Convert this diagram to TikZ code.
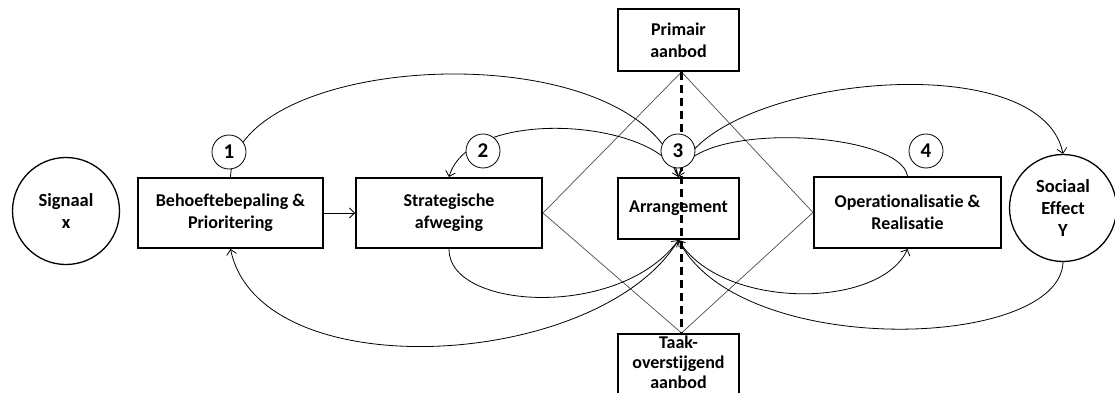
\documentclass[tikz,border=0pt]{standalone}
\usepackage{fontspec}
\setmainfont{Carlito}[Ligatures={NoCommon}]
\usetikzlibrary{arrows.meta}
\begin{document}
\begin{tikzpicture}[x=1pt,y=-1pt,
  box/.style={draw,line width=2pt,align=center,inner sep=0pt,font=\fontsize{18}{22}\selectfont\bfseries},
  bigc/.style={draw,circle,line width=1.3pt,align=center,inner sep=0pt,minimum size=107pt,font=\fontsize{18.5}{22}\selectfont\bfseries},
  numc/.style={draw,circle,fill=white,line width=0.8pt,inner sep=0pt,minimum size=34pt,font=\fontsize{21}{22}\selectfont\bfseries},
  conn/.style={line width=0.8pt},
  arr/.style={conn,-{Straight Barb[length=5pt,width=10pt]}},
  dia/.style={line width=0.7pt,black!70},
  dash line/.style={line width=2.2pt,dash pattern=on 8pt off 5pt}
]
\useasboundingbox (0,0) rectangle (1115,393);
% nodes
\node[bigc] (sig) at (66,211) {Signaal\\x};
\node[box,minimum width=185pt,minimum height=70pt] (b1) at (230.5,213) {Behoeftebepaling \&\\Prioritering};
\node[box,minimum width=186pt,minimum height=70pt] (b2) at (449,213) {Strategische\\afweging};
\node[box,minimum width=121pt,minimum height=61pt] (arrn) at (678.5,208.5) {Arrangement};
\node[box,minimum width=121pt,minimum height=62pt] (prim) at (678.5,40) {Primair\\aanbod};
\node[box,minimum width=121pt,minimum height=64pt,anchor=north] (taak) at (678.5,333) {};
\node[align=center,inner sep=0pt,font=\fontsize{18}{20}\selectfont\bfseries] (taakt) at (678.5,362) {Taak-\\overstijgend\\aanbod};
\node[box,minimum width=187pt,minimum height=71pt] (op) at (907.5,212.5) {Operationalisatie \&\\Realisatie};
\node[bigc] (soc) at (1063,208) {Sociaal\\Effect\\Y};
% diamond and dashed line
\coordinate (pt) at ([xshift=3pt]prim.south);
\coordinate (pb) at ([xshift=3pt]taak.north);
\draw[dia] (pt) -- (b2.east) -- (pb) -- (op.west) -- cycle;
\draw[dash line] (pt) -- (pb);
% straight arrow
\draw[arr] (b1.east) -- (b2.west);
% upper curves
\draw[arr] (b1.north) .. controls (235,50) and (640,30) .. (arrn.north);
\draw[arr] (arrn.north) .. controls (660,120) and (470,105) .. (b2.north);
\draw[arr] (arrn.north) .. controls (700,80) and (1040,40) .. (soc.north);
\draw[arr] (op.north) .. controls (900,130) and (690,120) .. (arrn.north);
% lower curves
\draw[arr] (b2.south) .. controls (448,310) and (620,320) .. (arrn.south);
\draw[arr] (arrn.south) .. controls (600,370) and (260,390) .. (b1.south);
\draw[arr] (arrn.south) .. controls (720,310) and (880,310) .. (op.south);
\draw[arr] (soc.south) .. controls (1060,350) and (740,360) .. (arrn.south);
% number circles
\node[numc] (n1) at (229,152) {1};
\node[numc] (n2) at (483,151) {2};
\node[numc] (n3) at (678,151) {3};
\node[numc] (n4) at (926,151) {4};
\end{tikzpicture}
\end{document}
